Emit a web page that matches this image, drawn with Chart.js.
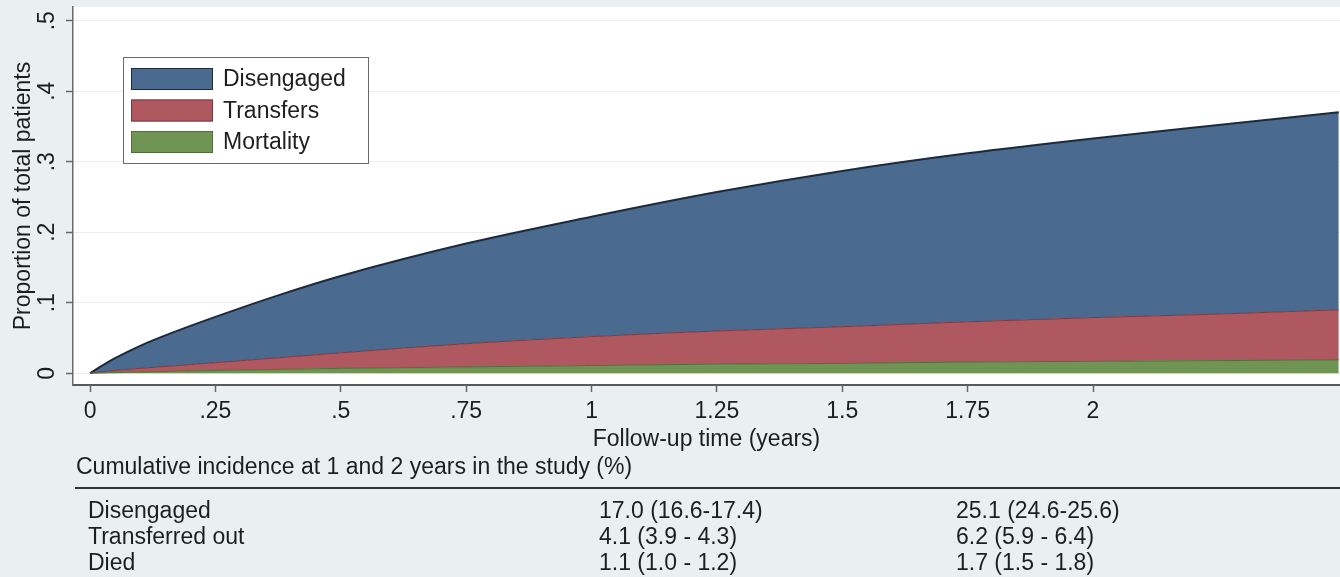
<!DOCTYPE html>
<html>
<head>
<meta charset="utf-8">
<script src="https://cdn.jsdelivr.net/npm/chart.js@4.4.0/dist/chart.umd.min.js"></script>
<style>
  html, body { margin: 0; padding: 0; background: #eaf0f2; }
  #wrap { width: 1340px; height: 577px; }
</style>
</head>
<body>
<div id="wrap"><canvas id="cif" width="1340" height="577"></canvas></div>
<script>
// follow-up time (years) and stacked cumulative incidence per outcome
const timeYears  = [0, 0.02, 0.05, 0.1, 0.175, 0.25, 0.375, 0.5, 0.75, 1, 1.25, 1.5, 1.75, 2, 2.25, 2.49];
const disengaged = [0, 0.007, 0.0175, 0.032, 0.0495, 0.065, 0.0885, 0.109, 0.142, 0.170, 0.197, 0.221, 0.239, 0.254, 0.268, 0.280];
const transfers  = [0, 0.0015, 0.003, 0.005, 0.008, 0.011, 0.0165, 0.022, 0.033, 0.041, 0.047, 0.052, 0.057, 0.062, 0.066, 0.071];
const mortality  = [0, 0.0005, 0.001, 0.002, 0.003, 0.004, 0.0055, 0.007, 0.009, 0.011, 0.013, 0.014, 0.016, 0.017, 0.018, 0.019];

const xTicks = [0, 0.25, 0.5, 0.75, 1, 1.25, 1.5, 1.75, 2];
const yTicks = [0, 0.1, 0.2, 0.3, 0.4, 0.5];

// table under the graph
const tableTitle = 'Cumulative incidence at 1 and 2 years in the study (%)';
const tableRows  = ['Disengaged', 'Transferred out', 'Died'];
const at1Year    = ['17.0 (16.6-17.4)', '4.1 (3.9 - 4.3)', '1.1 (1.0 - 1.2)'];
const at2Years   = ['25.1 (24.6-25.6)', '6.2 (5.9 - 6.4)', '1.7 (1.5 - 1.8)'];

const FONT = "'Liberation Sans', Arial, Helvetica, sans-serif";
const TXT = '#1e1e1e';

const pts = arr => timeYears.map((t, i) => ({ x: t, y: arr[i] }));
const stripZero = v => String(Math.round(v * 100) / 100).replace(/^0\./, '.');

// white plot region
const plotBg = {
    id: 'plotBg',
    beforeDraw(chart) {
        const { ctx, chartArea: a } = chart;
        ctx.save();
        ctx.fillStyle = '#ffffff';
        ctx.fillRect(a.left, a.top, a.right - a.left, a.bottom - a.top);
        ctx.restore();
    }
};

// legend box inside the plot, top-left
const boxLegend = {
    id: 'boxLegend',
    afterDraw(chart) {
        const ctx = chart.ctx;
        const sets = chart.data.datasets.slice().reverse();
        ctx.save();
        ctx.fillStyle = '#ffffff';
        ctx.fillRect(123, 57, 245, 106);
        ctx.strokeStyle = '#6a6a6a';
        ctx.lineWidth = 1;
        ctx.strokeRect(123.5, 57.5, 245, 106);
        ctx.font = '23px ' + FONT;
        ctx.textBaseline = 'middle';
        sets.forEach((ds, i) => {
            const y = 68 + i * 31.5;
            ctx.fillStyle = ds.backgroundColor;
            ctx.fillRect(131, y, 82, 22);
            ctx.strokeStyle = ds.borderColor;
            ctx.strokeRect(131.5, y + 0.5, 81, 21);
            ctx.fillStyle = TXT;
            ctx.fillText(ds.label, 223, y + 12);
        });
        ctx.restore();
    }
};

// the incidence table below the x axis
const incTable = {
    id: 'incTable',
    afterDraw(chart) {
        const ctx = chart.ctx;
        ctx.save();
        ctx.font = '23px ' + FONT;
        ctx.fillStyle = TXT;
        ctx.textBaseline = 'middle';
        ctx.fillText(tableTitle, 76, 468);
        ctx.strokeStyle = '#333';
        ctx.lineWidth = 2;
        ctx.beginPath();
        ctx.moveTo(75, 488);
        ctx.lineTo(1340, 488);
        ctx.stroke();
        tableRows.forEach((r, i) => {
            const y = 512 + i * 26;
            ctx.fillText(r, 88, y);
            ctx.fillText(at1Year[i], 599, y);
            ctx.fillText(at2Years[i], 956, y);
        });
        ctx.restore();
    }
};

new Chart(document.getElementById('cif'), {
    type: 'line',
    data: {
        datasets: [
            { label: 'Mortality', data: pts(mortality), backgroundColor: '#6f9453', borderColor: '#4f6e3a', borderWidth: 1, fill: 'origin' },
            { label: 'Transfers', data: pts(transfers), backgroundColor: '#b0585f', borderColor: '#7d3940', borderWidth: 1, fill: '-1' },
            { label: 'Disengaged', data: pts(disengaged), backgroundColor: '#4a6b8f', borderColor: '#1c2a3c', borderWidth: 2, fill: '-1' }
        ]
    },
    options: {
        responsive: false,
        devicePixelRatio: 1,
        animation: false,
        layout: { padding: { top: 7, right: 0, bottom: 120, left: 0 } },
        elements: { point: { radius: 0 }, line: { cubicInterpolationMode: 'monotone' } },
        plugins: { legend: { display: false }, tooltip: { enabled: false } },
        scales: {
            x: {
                type: 'linear',
                min: -0.034,
                max: 2.4925,
                afterBuildTicks: s => { s.ticks = xTicks.map(v => ({ value: v })); },
                afterFit: s => { s.height = 72; s.paddingLeft = 0; s.paddingRight = 0; },
                ticks: { callback: v => stripZero(v), color: TXT, font: { family: FONT, size: 23 }, padding: 6, maxRotation: 0 },
                grid: { drawOnChartArea: false, drawTicks: true, tickLength: 7, tickColor: '#666', tickWidth: 1.5 },
                border: { display: true, color: '#5a5a5a', width: 2 },
                title: { display: true, text: 'Follow-up time (years)', color: TXT, font: { family: FONT, size: 23 }, padding: { top: 0, bottom: 4 } }
            },
            y: {
                stacked: true,
                min: -0.0166,
                max: 0.5194,
                afterBuildTicks: s => { s.ticks = yTicks.map(v => ({ value: v })); },
                afterFit: s => { s.width = 73; s.paddingTop = 0; s.paddingBottom = 0; },
                ticks: { callback: v => stripZero(v), color: TXT, font: { family: FONT, size: 23 }, minRotation: 90, maxRotation: 90, crossAlign: 'center', padding: 9 },
                grid: { color: '#ececec', lineWidth: 1, drawTicks: true, tickLength: 7, tickColor: '#666', tickWidth: 1.5 },
                border: { display: true, color: '#6a6a6a', width: 1.5 },
                title: { display: true, text: 'Proportion of total patients', color: TXT, font: { family: FONT, size: 23 }, padding: { top: 10, bottom: 0 } }
            }
        }
    },
    plugins: [plotBg, boxLegend, incTable]
});
</script>
</body>
</html>
